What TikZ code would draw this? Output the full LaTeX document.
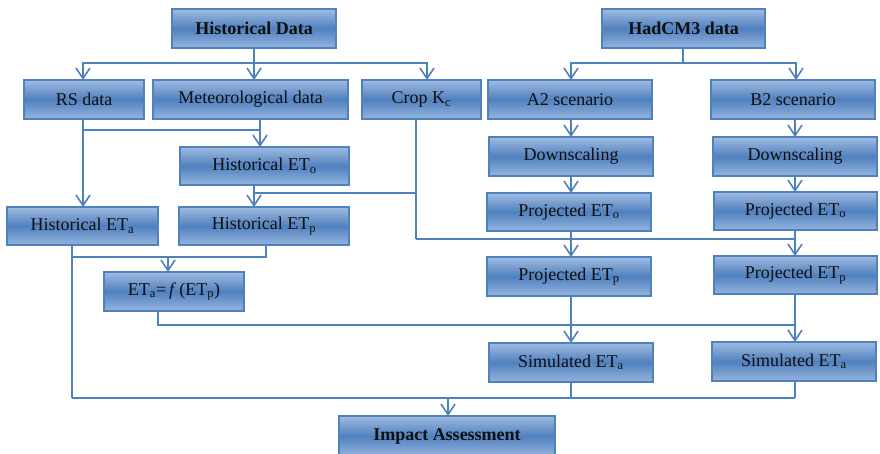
\documentclass[tikz,border=0pt]{standalone}
\usepackage{fontspec}
\setmainfont{Liberation Serif}
\usetikzlibrary{arrows.meta,calc}
\definecolor{lnc}{RGB}{79,129,189}
\definecolor{bxtop}{RGB}{160,187,224}
\definecolor{bxmid}{RGB}{80,129,191}
\definecolor{bxbot}{RGB}{150,180,222}
\definecolor{txc}{RGB}{15,15,15}
\tikzset{
  box/.style={draw=lnc, line width=1.3pt, top color=bxtop, bottom color=bxbot, middle color=bxmid,
    inner sep=0pt, outer sep=0pt, font=\fontsize{18}{20}\selectfont, text=txc, minimum height=39pt},
  line/.style={draw=lnc, line width=1.6pt},
  arr/.style={line, -{Straight Barb[length=10.5pt,width=14pt]}},
}
\newcommand{\sbx}[1]{\textsubscript{#1}}
\begin{document}
\begin{tikzpicture}[x=1pt,y=-1pt]
\useasboundingbox (0,0) rectangle (880,454);
% nodes
\node[box, minimum width=164pt, font=\fontsize{18}{20}\selectfont\bfseries] (hd) at (254,28.5) {Historical Data};
\node[box, minimum width=163pt, font=\fontsize{18}{20}\selectfont\bfseries] (had) at (683.5,28.5) {HadCM3 data};
\node[box, minimum width=120pt] (rs) at (84,99.5) {RS data};
\node[box, minimum width=195pt] (met) at (250.5,99.5) {Meteorological data};
\node[box, minimum width=119pt] (crop) at (421.5,99.5) {Crop K\sbx{c}};
\node[box, minimum width=164pt] (a2) at (570,99.5) {A2 scenario};
\node[box, minimum width=164pt] (b2) at (793,99.5) {B2 scenario};
\node[box, minimum width=164pt] (dsa) at (571,156.5) {Downscaling};
\node[box, minimum width=164pt] (dsb) at (795,156.5) {Downscaling};
\node[box, minimum width=169pt, minimum height=38pt] (heto) at (264.5,166) {Historical ET\sbx{o}};
\node[box, minimum width=164pt, minimum height=38pt] (peta) at (569,212) {Projected ET\sbx{o}};
\node[box, minimum width=163pt, minimum height=38pt] (petb) at (795.5,211) {Projected ET\sbx{o}};
\node[box, minimum width=151pt, minimum height=38pt] (heta) at (82.5,226) {Historical ET\sbx{a}};
\node[box, minimum width=170pt, minimum height=38pt] (hetp) at (264,226) {Historical ET\sbx{p}};
\node[box, minimum width=164pt] (ppa) at (569,276.5) {Projected ET\sbx{p}};
\node[box, minimum width=163pt, minimum height=38pt] (ppb) at (795.5,275) {Projected ET\sbx{p}};
\node[box, minimum width=140pt] (fx) at (174,291.5) {ET\sbx{a}=\,\textit{f}\,(ET\sbx{p})};
\node[box, minimum width=164pt] (sa) at (571,362.5) {Simulated ET\sbx{a}};
\node[box, minimum width=164pt] (sb) at (794,361.5) {Simulated ET\sbx{a}};
\node[box, minimum width=216pt, minimum height=40pt, font=\fontsize{18}{20}\selectfont\bfseries] (ia) at (447,436) {Impact Assessment};
% junction coordinates
\coordinate (hb) at (254,63);
\coordinate (cb) at (683,63);
\coordinate (mj) at (260,130);
\coordinate (oj) at (254,193);
\coordinate (cj) at (416,193);
\coordinate (pj) at (416,239);
\coordinate (tj) at (266,257);
\coordinate (fj) at (158,325);
\coordinate (bj) at (448,398);
% historical data
\draw[line] (hd.south -| hb) -- (hb);
\draw[arr] (hb) -| ([xshift=-1pt]rs.north);
\draw[arr] (hb) -- (hb |- met.north);
\draw[arr] (hb) -| ([xshift=5.5pt]crop.north);
% hadcm3
\draw[line] (had.south -| cb) -- (cb);
\draw[arr] (cb) -| ([xshift=1pt]a2.north);
\draw[arr] (cb) -| ([xshift=3pt]b2.north);
\draw[arr] (a2.south -| dsa) -- (dsa.north);
\draw[arr] (b2.south -| dsb) -- (dsb.north);
\draw[arr] (dsa.south) -- (dsa.south |- peta.north);
\draw[arr] (dsb.south) -- (dsb.south |- petb.north);
% rs / met
\draw[arr] ([xshift=-1pt]rs.south) -- ([xshift=-1pt]rs.south |- heta.north);
\draw[line] (met.south -| mj) -- (mj);
\draw[line] ([xshift=-1pt]rs.south |- mj) -- (mj);
\draw[arr] (mj) -- (mj |- heto.north);
% eto -> etp with crop
\draw[arr] (heto.south -| oj) -- (oj |- hetp.north);
\draw[line] (crop.south -| cj) -- (pj);
\draw[line] (cj) -- (oj);
\draw[line] (pj) -- (pj -| dsb.south);
\draw[arr] (peta.south -| dsa) -- (dsa |- ppa.north);
\draw[arr] (petb.south -| dsb) -- (dsb |- ppb.north);
% historical eta / etp -> f
\draw[line] ([xshift=-10.5pt]heta.south) -- ([xshift=-10.5pt]heta.south |- bj);
\draw[line] (hetp.south -| tj) -- (tj) -- ([xshift=-10.5pt]heta.south |- tj);
\draw[arr] (tj -| fx.north) ++(-6pt,0) -- ([xshift=-6pt]fx.north);
% f -> simulated
\draw[line] (fx.south -| fj) -- (fj) -- (fj -| dsb);
\draw[arr] (ppa.south -| dsa) -- (dsa |- sa.north);
\draw[arr] (ppb.south -| dsb) -- (dsb |- sb.north);
% simulated -> impact
\draw[line] (sa.south -| dsa) -- (dsa |- bj);
\draw[line] (sb.south -| dsb) -- (dsb |- bj);
\draw[line] ([xshift=-10.5pt]heta.south |- bj) -- (dsb |- bj);
\draw[arr] (bj) -- (bj |- ia.north);
\end{tikzpicture}
\end{document}
